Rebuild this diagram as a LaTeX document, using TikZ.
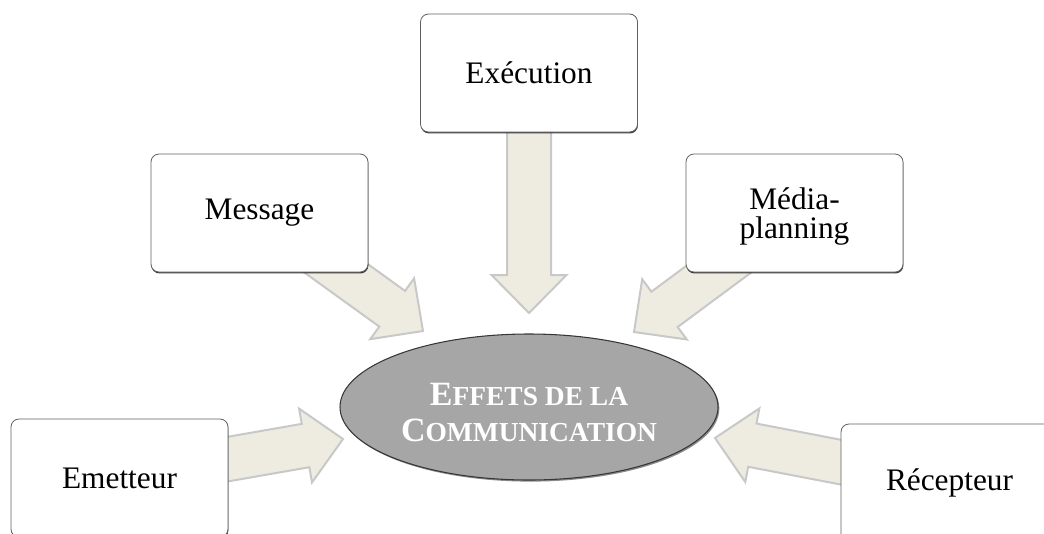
\documentclass[tikz,border=0pt]{standalone}
\usepackage{fontspec}
\setmainfont{Liberation Serif}
\usetikzlibrary{calc,shadows,shapes.geometric}
\definecolor{arrowfill}{RGB}{238,236,225}
\definecolor{arrowline}{RGB}{200,200,200}
\definecolor{boxline}{RGB}{95,95,95}
\definecolor{ellfill}{RGB}{166,166,166}
\definecolor{ellline}{RGB}{55,55,55}
\pgfdeclarelayer{background}
\pgfsetlayers{background,main}
\newcommand\bigsmall[2]{{\fontsize{25.5}{27}\selectfont #1}{\fontsize{20.6}{27}\selectfont #2}}
\newcommand\blockarrow[2]{%
  \coordinate (ba-b) at ($(#2)!28.5pt!(#1.center)$);
  \filldraw[blockarrowstyle]
    ($(#1.center)!16.5pt!90:(#2)$) -- ($(ba-b)!16.5pt!-90:(#1.center)$) --
    ($(ba-b)!28.1pt!-90:(#1.center)$) -- (#2) --
    ($(ba-b)!28.1pt!90:(#1.center)$) -- ($(ba-b)!16.5pt!90:(#1.center)$) --
    ($(#1.center)!16.5pt!-90:(#2)$) -- cycle;
}
\tikzset{
  blockarrowstyle/.style={fill=arrowfill, draw=arrowline, line width=1.5pt, line join=miter},
  stagebox/.style={draw=boxline, line width=0.6pt, fill=white, rounded corners=6pt,
    minimum width=162.75pt, minimum height=88.5pt, inner sep=0pt, align=center,
    font=\fontsize{23.5}{22}\selectfont,
    drop shadow={shadow xshift=0.3pt, shadow yshift=-1.1pt, fill=black, opacity=0.75}},
  centreell/.style={ellipse, draw=ellline, line width=0.8pt, fill=ellfill,
    minimum width=283.5pt, minimum height=109.5pt, inner sep=0pt,
    drop shadow={shadow xshift=1pt, shadow yshift=-1.2pt, fill=black, opacity=0.45}},
  centretext/.style={inner sep=0pt, align=center, text=white,
    font=\bfseries\fontsize{25.5}{27}\selectfont}
}
\begin{document}
\begin{tikzpicture}[x=0.75pt,y=-0.75pt]
\useasboundingbox (0,0) rectangle (1044,533);
\begin{scope}
\clip (0,0) rectangle (1044,533);
\node[stagebox] (exe) at (529,73) {Exécution};
\node[stagebox] (msg) at (259.5,213) {Message};
\node[stagebox] (med) at (794.5,213) {\rule{0pt}{22pt}Média-\\planning};
\node[stagebox] (emt) at (119.5,478) {Emetteur};
\node[stagebox] (rec) at (949.5,483) {Récepteur};
\node[centreell] (eff) at (529,407) {};
\node[centretext] (efftext) at (529,413) {\bigsmall{E}{FFETS DE LA}\\\bigsmall{C}{OMMUNICATION}};
\coordinate (t-exe) at (529,313);
\coordinate (t-msg) at (423,331);
\coordinate (t-med) at (634,332);
\coordinate (t-emt) at (343,439);
\coordinate (t-rec) at (715,438);
\begin{pgfonlayer}{background}
\blockarrow{exe}{t-exe}
\blockarrow{msg}{t-msg}
\blockarrow{med}{t-med}
\blockarrow{emt}{t-emt}
\blockarrow{rec}{t-rec}
\end{pgfonlayer}
\end{scope}
\end{tikzpicture}
\end{document}
